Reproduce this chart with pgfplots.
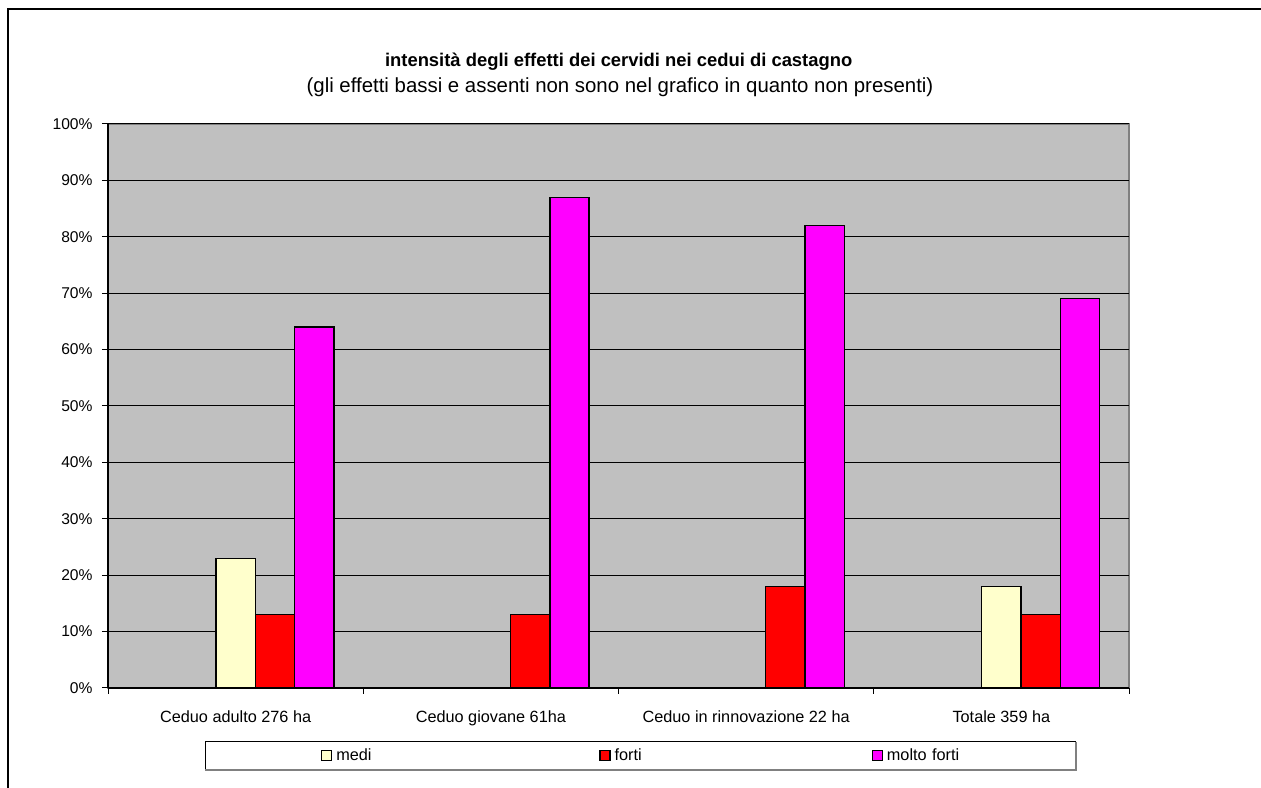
\documentclass[border=0pt]{standalone}
\usepackage{fontspec}
\setmainfont{Liberation Sans}
\usepackage{pgfplots}
\pgfplotsset{compat=1.18}
\definecolor{plotgray}{HTML}{C0C0C0}
\definecolor{bordergray}{HTML}{808080}
\definecolor{medi}{HTML}{FFFFCC}
\definecolor{forti}{HTML}{FF0000}
\definecolor{moltoforti}{HTML}{FF00FF}

\newcommand{\tickfont}{\fontsize{11.7}{14}\selectfont}
\newcommand{\labfont}{\fontsize{12.2}{14}\selectfont}

\pgfplotsset{
  mybar/.style={
    ybar, bar width=0.154, draw=black, line width=1pt,
    legend image code/.code={\draw[##1, line width=1pt] (0pt,-3.75pt) rectangle (7.5pt,3.75pt);}
  }
}

\begin{document}
\tickfont
\begin{tikzpicture}
\useasboundingbox (0,0) rectangle (945.75pt,591pt);
% outer chart frame (only top and left visible)
\draw[line width=1.5pt] (6pt,0) -- (6pt,584.25pt) -- (945.75pt,584.25pt);
\node[font=\fontsize{13.8}{16}\selectfont\bfseries] at (464pt,544.5pt) {intensità degli effetti dei cervidi nei cedui di castagno};
\node[font=\fontsize{15.3}{18}\selectfont] at (465pt,525.75pt) {(gli effetti bassi e assenti non sono nel grafico in quanto non presenti)};
% legend frame
\draw[line width=0.75pt] (153.75pt,13.5pt) -- (153.75pt,34.7pt) -- (807pt,34.7pt);
\draw[line width=1.5pt, bordergray] (807pt,34.7pt) -- (807pt,13.5pt) -- (153.75pt,13.5pt);

\begin{axis}[
  at={(81pt,75pt)}, anchor=south west,
  scale only axis, width=765.75pt, height=423pt,
  xmin=-0.5, xmax=3.5, ymin=0, ymax=100,
  axis x line*=bottom, axis y line*=left,
  axis line style={black, line width=1pt},
  axis background/.style={fill=plotgray, draw=bordergray, line width=1.5pt},
  tick align=outside,
  ytick={0,10,...,100},
  yticklabel={\pgfmathparse{int(\tick)}\pgfmathresult\%},
  yticklabel style={font=\tickfont, xshift=-3pt},
  major tick length=4.5pt,
  minor tick length=4.5pt,
  tick style={black, line width=0.75pt},
  xtick={0,1,2,3},
  xticklabels={Ceduo adulto 276 ha, Ceduo giovane 61ha, Ceduo in rinnovazione 22 ha, Totale 359 ha},
  major x tick style={draw=none},
  minor xtick={-0.5,0.5,1.5,2.5,3.5},
  xticklabel style={font=\labfont, anchor=base, yshift=-21.5pt},
  ymajorgrids,
  grid style={black, line width=0.75pt},
  legend columns=3,
  legend style={draw=none, fill=none, at={(0.2083,-0.1201)}, anchor=west,
    inner sep=0pt, font=\labfont,
    nodes={inner xsep=3pt, text width=193.5pt, align=left}},
]
\addplot[mybar, fill=medi, bar shift=0] coordinates {(0,23) (3,18)};
\addlegendentry[text width=194.25pt]{medi}
\addplot[mybar, fill=forti, bar shift=0.154] coordinates {(0,13) (1,13) (2,18) (3,13)};
\addlegendentry[text width=189.75pt]{forti}
\addplot[mybar, fill=moltoforti, bar shift=0.308] coordinates {(0,64) (1,87) (2,82) (3,69)};
\addlegendentry{molto forti}
\end{axis}
\end{tikzpicture}
\end{document}
